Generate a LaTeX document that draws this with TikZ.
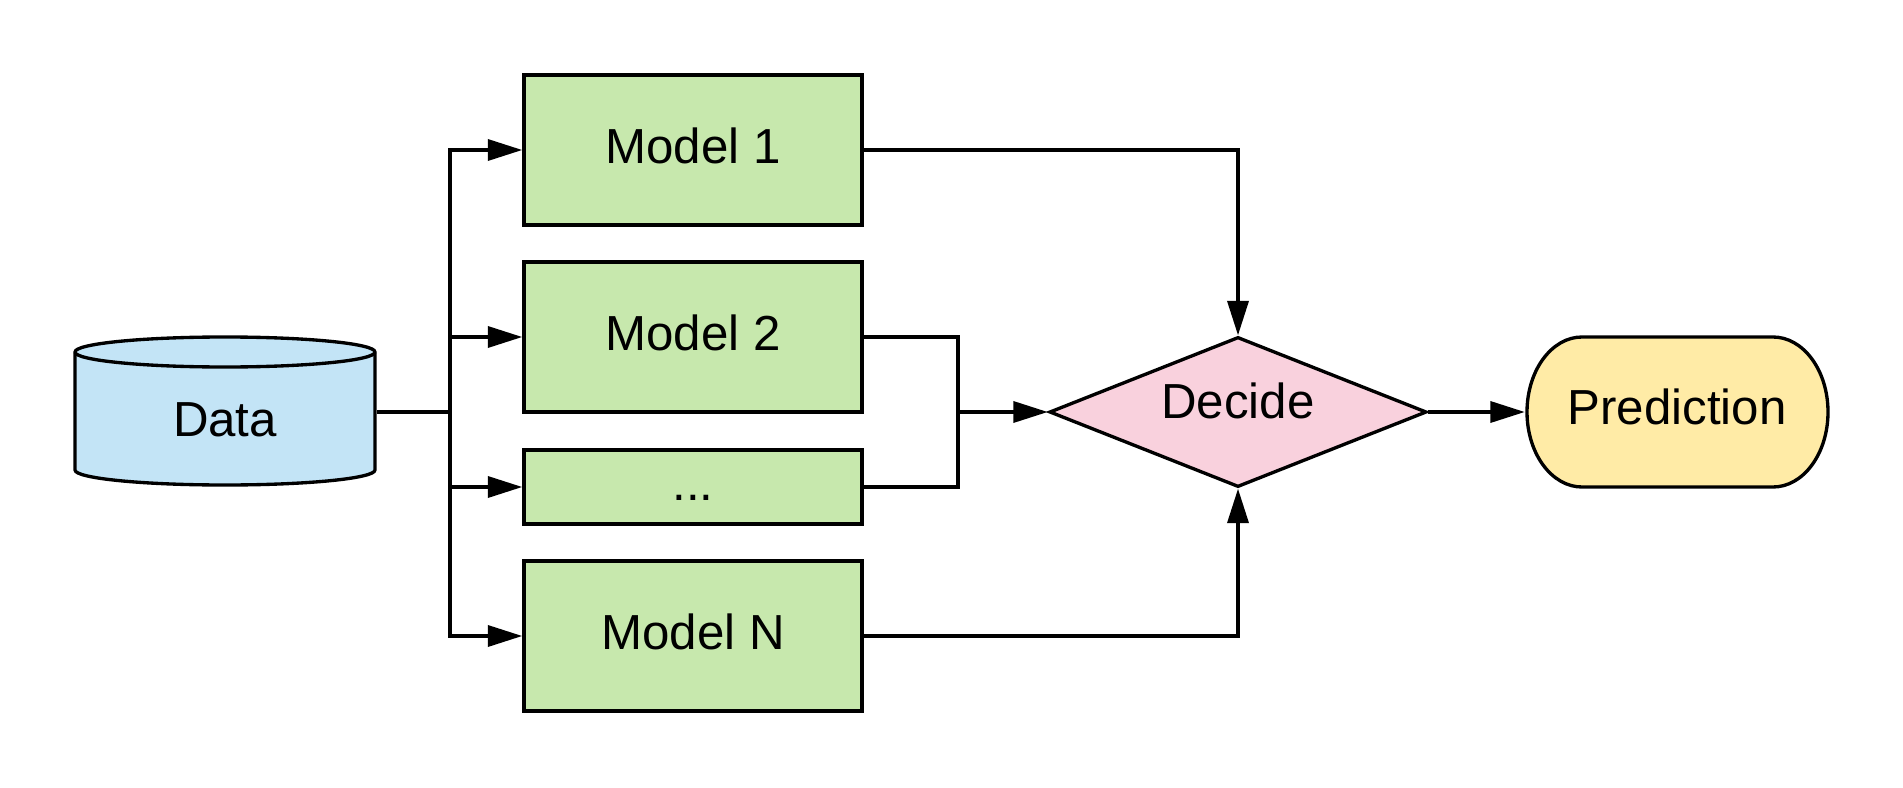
\documentclass[tikz,border=0pt]{standalone}
\usepackage{fontspec}
\setmainfont{Liberation Sans}
\usetikzlibrary{arrows.meta,shapes.geometric}
\definecolor{datablue}{HTML}{C3E4F6}
\definecolor{modelgreen}{HTML}{C7E8AD}
\definecolor{decidepink}{HTML}{F9D1DD}
\definecolor{predyellow}{HTML}{FFEBA6}
\begin{document}
\begin{tikzpicture}[x=0.01cm,y=-0.01cm,line width=0.95pt,
        font=\fontsize{14}{17}\selectfont,
        modelbox/.style={draw,fill=modelgreen,minimum width=3.38cm,minimum height=1.5cm,inner sep=0pt,
            text height=10pt,text depth=2.2pt},
        arr/.style={-{Triangle[length=9.8pt,width=6pt]}}]
        \useasboundingbox (0,0) rectangle (1903,788);
        % data store
        \node (data) at (225,412) [minimum width=3cm,minimum height=1.5cm,inner sep=0pt] {};
        \draw[fill=datablue] (75,352) -- (75,470) .. controls (75,478.3) and (142.2,485) .. (225,485)
            .. controls (307.8,485) and (375,478.3) .. (375,470) -- (375,352)
            .. controls (375,343.7) and (307.8,337) .. (225,337)
            .. controls (142.2,337) and (75,343.7) .. (75,352) -- cycle;
        \draw (75,352) .. controls (75,360.3) and (142.2,367) .. (225,367)
            .. controls (307.8,367) and (375,360.3) .. (375,352);
        \node (datatext) at (225,420) {Data};
        % models
        \node (m1) at (693,150) [modelbox] {Model 1};
        \node (m2) at (693,337) [modelbox] {Model 2};
        \node (mdots) at (693,487) [modelbox,minimum height=0.74cm] {...};
        \node (mN) at (693,636) [modelbox] {Model N};
        % decision and result
        \node (decide) at (1238,412) [draw,fill=decidepink,shape=diamond,aspect=2.5,
            minimum width=3.77cm,minimum height=1.5cm,inner sep=0pt,
            text height=10pt,text depth=6.2pt] {Decide};
        \node (pred) at (1677,412) [minimum width=3.01cm,minimum height=1.5cm,inner sep=0pt] {};
        \draw[fill=predyellow] (1582,337) -- (1773,337) .. controls (1803.4,337) and (1828,370.6) .. (1828,412)
            .. controls (1828,453.4) and (1803.4,487) .. (1773,487) -- (1582,487)
            .. controls (1551.6,487) and (1527,453.4) .. (1527,412)
            .. controls (1527,370.6) and (1551.6,337) .. (1582,337) -- cycle;
        \node (predtext) at (1677,412) [text height=10pt,text depth=2.8pt] {Prediction};
        \coordinate (split) at (450,412);
        \coordinate (join) at (958,412);
        \draw (data.east) -- (split);
        \draw[arr] (split) |- (m1.west);
        \draw[arr] (split) |- (m2.west);
        \draw[arr] (split) |- (mdots.west);
        \draw[arr] (split) |- (mN.west);
        \draw (m2.east) -| (join);
        \draw (mdots.east) -| (join);
        \draw[arr] (join) -- (decide.west);
        \draw[arr] (m1.east) -| (decide.north);
        \draw[arr] (mN.east) -| (decide.south);
        \draw[arr] (decide.east) -- (pred.west);
    \end{tikzpicture}
\end{document}
